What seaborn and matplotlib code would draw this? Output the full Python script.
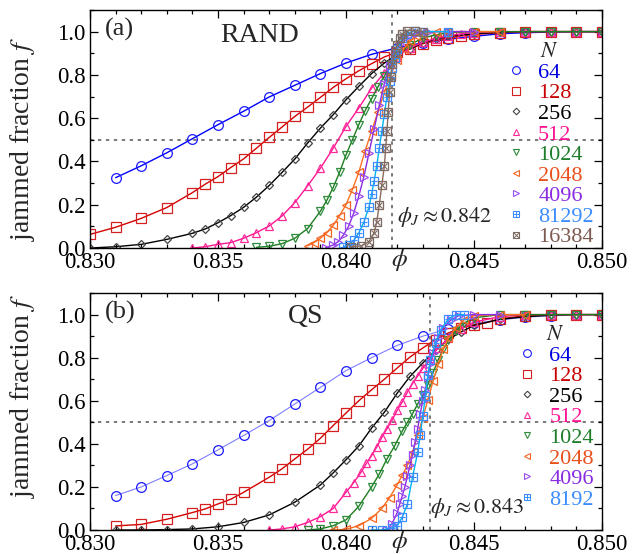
import matplotlib
matplotlib.use('Agg')
import matplotlib.pyplot as plt
import matplotlib.transforms as mtransforms
from matplotlib.lines import Line2D
from matplotlib.ticker import MultipleLocator, FormatStrFormatter
import seaborn as sns

# ---- panel (a) RAND ----
phi_a_64 = [0.831, 0.832, 0.833, 0.834, 0.835, 0.836, 0.837, 0.838, 0.839, 0.840,
            0.841, 0.842, 0.843, 0.844, 0.845, 0.846, 0.847, 0.848, 0.849, 0.850]
f_a_64 = [0.325, 0.380, 0.440, 0.505, 0.570, 0.632, 0.698, 0.752, 0.806, 0.855,
          0.895, 0.925, 0.948, 0.965, 0.978, 0.990, 0.995, 0.998, 1.000, 1.000]

phi_a_128 = [0.830, 0.831, 0.832, 0.833, 0.834, 0.8345, 0.835, 0.8355, 0.836, 0.8365,
             0.837, 0.8375, 0.838, 0.8385, 0.839, 0.8395, 0.840, 0.8405, 0.841, 0.8415,
             0.842, 0.8425, 0.843, 0.8435, 0.844, 0.8445, 0.845, 0.846, 0.847, 0.848,
             0.849, 0.850]
f_a_128 = [0.063, 0.096, 0.137, 0.187, 0.256, 0.295, 0.330, 0.372, 0.412, 0.461,
           0.511, 0.559, 0.608, 0.651, 0.696, 0.742, 0.782, 0.819, 0.852, 0.883,
           0.905, 0.921, 0.944, 0.960, 0.970, 0.980, 0.987, 0.995, 1.000, 1.000,
           1.000, 1.000]

phi_a_256 = [0.830, 0.831, 0.832, 0.833, 0.834, 0.8345, 0.835, 0.8355, 0.836, 0.8365,
             0.837, 0.8375, 0.838, 0.8385, 0.839, 0.8395, 0.840, 0.8405, 0.841, 0.8415,
             0.842, 0.8425, 0.843, 0.8435, 0.844, 0.845, 0.846, 0.847, 0.848, 0.849, 0.850]
f_a_256 = [0.000, 0.006, 0.017, 0.040, 0.068, 0.088, 0.117, 0.150, 0.188, 0.235,
           0.289, 0.349, 0.411, 0.485, 0.554, 0.616, 0.685, 0.747, 0.806, 0.855,
           0.894, 0.920, 0.948, 0.965, 0.978, 0.990, 0.997, 1.000, 1.000, 1.000, 1.000]

phi_a_512 = [0.834, 0.8345, 0.835, 0.8355, 0.836, 0.8365, 0.837, 0.8375, 0.838, 0.8385,
             0.839, 0.8395, 0.840, 0.8405, 0.841, 0.8415, 0.842, 0.8425, 0.843, 0.8435,
             0.844, 0.8445, 0.845, 0.846, 0.847, 0.848, 0.849, 0.850]
f_a_512 = [0.000, 0.006, 0.017, 0.025, 0.045, 0.071, 0.102, 0.148, 0.210, 0.287,
           0.369, 0.461, 0.562, 0.647, 0.739, 0.810, 0.885, 0.925, 0.950, 0.968,
           0.980, 0.990, 0.995, 1.000, 1.000, 1.000, 1.000, 1.000]

phi_a_1024 = [0.8365, 0.837, 0.8375, 0.838, 0.8385, 0.839, 0.83925, 0.8395, 0.83975, 0.840,
              0.84025, 0.8405, 0.84075, 0.841, 0.84125, 0.8415, 0.84175, 0.842, 0.8425, 0.843,
              0.8435, 0.844, 0.845, 0.846, 0.847, 0.848, 0.849, 0.850]
f_a_1024 = [0.003, 0.008, 0.020, 0.045, 0.090, 0.170, 0.220, 0.280, 0.350, 0.430,
            0.500, 0.570, 0.635, 0.690, 0.745, 0.795, 0.845, 0.890, 0.940, 0.970,
            0.985, 0.995, 1.000, 1.000, 1.000, 1.000, 1.000, 1.000]

phi_a_2048 = [0.8385, 0.83875, 0.839, 0.83925, 0.8395, 0.83975, 0.840, 0.84025, 0.8405, 0.84075,
              0.841, 0.84125, 0.8415, 0.84175, 0.842, 0.84225, 0.8425, 0.84275, 0.843, 0.8435,
              0.844, 0.845, 0.846]
f_a_2048 = [0.010, 0.025, 0.045, 0.070, 0.105, 0.150, 0.200, 0.270, 0.350, 0.450,
            0.540, 0.630, 0.720, 0.800, 0.870, 0.920, 0.955, 0.978, 0.990, 1.000,
            1.000, 1.000, 1.000]

phi_a_4096 = [0.8392, 0.8395, 0.8397, 0.8399, 0.8401, 0.8403, 0.8405, 0.8407, 0.8409, 0.8411,
              0.8413, 0.8415, 0.8417, 0.8419, 0.8421, 0.8423, 0.8425, 0.8428, 0.8432, 0.844, 0.845]
f_a_4096 = [0.000, 0.014, 0.030, 0.060, 0.100, 0.160, 0.240, 0.330, 0.440, 0.550,
            0.660, 0.760, 0.840, 0.900, 0.945, 0.970, 0.985, 0.995, 1.000, 1.000, 1.000]

phi_a_8192 = [0.8399, 0.8401, 0.8403, 0.8405, 0.8407, 0.8409, 0.8410, 0.8411, 0.8412, 0.8413,
              0.8414, 0.8415, 0.8416, 0.8417, 0.8418, 0.8419, 0.8420, 0.8422, 0.8424, 0.8427,
              0.8430, 0.844]
f_a_8192 = [0.005, 0.015, 0.035, 0.070, 0.120, 0.190, 0.250, 0.310, 0.380, 0.460,
            0.540, 0.620, 0.700, 0.770, 0.830, 0.880, 0.920, 0.970, 0.990, 1.005,
            1.000, 1.000]

phi_a_16384 = [0.8402, 0.8406, 0.8409, 0.8411, 0.8412, 0.8413, 0.8414, 0.8415, 0.84155, 0.8416,
               0.84165, 0.8417, 0.84175, 0.8418, 0.8419, 0.8420, 0.8421, 0.8422, 0.8424, 0.8427,
               0.8430]
f_a_16384 = [0.005, 0.010, 0.030, 0.070, 0.120, 0.200, 0.290, 0.380, 0.460, 0.540,
             0.630, 0.720, 0.790, 0.850, 0.900, 0.940, 0.970, 0.990, 1.005, 1.005,
             1.000]

# ---- panel (b) QS ----
phi_b_64 = [0.831, 0.832, 0.833, 0.834, 0.835, 0.836, 0.837, 0.838, 0.839, 0.840,
            0.841, 0.842, 0.843, 0.844, 0.845, 0.846, 0.847, 0.848, 0.849, 0.850]
f_b_64 = [0.160, 0.200, 0.253, 0.307, 0.372, 0.439, 0.508, 0.585, 0.662, 0.740,
          0.800, 0.857, 0.900, 0.935, 0.960, 0.975, 0.988, 0.995, 1.000, 1.000]

phi_b_128 = [0.831, 0.832, 0.833, 0.834, 0.8345, 0.835, 0.8355, 0.836, 0.837, 0.8375,
             0.838, 0.8385, 0.839, 0.8395, 0.840, 0.8405, 0.841, 0.8415, 0.842, 0.8425,
             0.843, 0.8435, 0.844, 0.8445, 0.845, 0.8455, 0.846, 0.847, 0.848, 0.849, 0.850]
f_b_128 = [0.019, 0.026, 0.050, 0.081, 0.098, 0.121, 0.143, 0.175, 0.245, 0.284,
           0.330, 0.375, 0.426, 0.485, 0.543, 0.600, 0.651, 0.700, 0.752, 0.803,
           0.845, 0.884, 0.915, 0.938, 0.953, 0.963, 0.980, 0.995, 1.000, 1.000, 1.000]

phi_b_256 = [0.831, 0.832, 0.833, 0.834, 0.835, 0.836, 0.837, 0.838, 0.839, 0.8395,
             0.840, 0.8405, 0.841, 0.8415, 0.842, 0.8425, 0.843, 0.8435, 0.844, 0.8445,
             0.845, 0.846, 0.847, 0.848, 0.849, 0.850]
f_b_256 = [0.000, 0.000, 0.002, 0.005, 0.015, 0.035, 0.070, 0.129, 0.209, 0.265,
           0.326, 0.390, 0.473, 0.547, 0.635, 0.713, 0.775, 0.835, 0.885, 0.920,
           0.950, 0.978, 0.990, 0.997, 1.000, 1.000]

phi_b_512 = [0.837, 0.8375, 0.838, 0.8385, 0.839, 0.8395, 0.840, 0.8403, 0.8406, 0.8408,
             0.841, 0.8412, 0.8414, 0.8416, 0.8418, 0.842, 0.8422, 0.8424, 0.8426, 0.8428,
             0.843, 0.8433, 0.8436, 0.844, 0.8445, 0.845, 0.846, 0.847, 0.848, 0.849, 0.850]
f_b_512 = [0.000, 0.005, 0.015, 0.035, 0.062, 0.100, 0.175, 0.220, 0.270, 0.310,
           0.345, 0.385, 0.430, 0.470, 0.510, 0.555, 0.595, 0.640, 0.680, 0.715,
           0.750, 0.800, 0.845, 0.890, 0.935, 0.965, 0.990, 1.000, 1.000, 1.000, 1.000]

phi_b_1024 = [0.8385, 0.839, 0.8395, 0.840, 0.8405, 0.841, 0.8413, 0.8416, 0.8419, 0.8422,
              0.8424, 0.8426, 0.8428, 0.843, 0.8432, 0.8434, 0.8436, 0.8438, 0.844, 0.8443,
              0.8446, 0.845, 0.846, 0.847, 0.848, 0.849, 0.850]
f_b_1024 = [0.000, 0.005, 0.020, 0.047, 0.110, 0.200, 0.260, 0.330, 0.390, 0.460,
            0.500, 0.540, 0.585, 0.625, 0.675, 0.730, 0.790, 0.840, 0.880, 0.925,
            0.960, 0.985, 1.000, 1.000, 1.000, 1.000, 1.000]

phi_b_2048 = [0.8395, 0.840, 0.8405, 0.841, 0.8414, 0.8417, 0.842, 0.8422, 0.8424, 0.8426,
              0.8428, 0.8430, 0.8432, 0.8434, 0.8436, 0.8438, 0.844, 0.8443, 0.8446, 0.845,
              0.846, 0.847]
f_b_2048 = [0.000, 0.003, 0.020, 0.054, 0.100, 0.150, 0.210, 0.255, 0.300, 0.360,
            0.440, 0.520, 0.605, 0.690, 0.770, 0.840, 0.890, 0.940, 0.975, 0.995,
            1.000, 1.000]

phi_b_4096 = [0.8416, 0.8418, 0.842, 0.8421, 0.8422, 0.8423, 0.8424, 0.8425, 0.8426, 0.8427,
              0.8428, 0.8429, 0.843, 0.8431, 0.8432, 0.8433, 0.8434, 0.8436, 0.8438, 0.8441,
              0.8444, 0.845, 0.846]
f_b_4096 = [0.000, 0.030, 0.080, 0.120, 0.160, 0.200, 0.250, 0.300, 0.350, 0.410,
            0.470, 0.540, 0.600, 0.650, 0.710, 0.770, 0.820, 0.890, 0.940, 0.975,
            0.995, 1.000, 1.000]

phi_b_8192 = [0.8410, 0.8414, 0.8418, 0.8420, 0.8422, 0.8424, 0.8426, 0.8428, 0.8429, 0.8430,
              0.8431, 0.8432, 0.8433, 0.8435, 0.8437, 0.8440, 0.8443, 0.8446]
f_b_8192 = [0.000, 0.000, 0.010, 0.019, 0.060, 0.121, 0.245, 0.360, 0.440, 0.530,
            0.620, 0.720, 0.790, 0.870, 0.930, 0.980, 1.000, 1.000]

labels_a = ['64', '128', '256', '512', '1024', '2048', '4096', '81292', '16384']
labels_b = ['64', '128', '256', '512', '1024', '2048', '4096', '8192']
phi_J_a = 0.8418
phi_J_b = 0.8433

series_a = [(phi_a_64, f_a_64), (phi_a_128, f_a_128), (phi_a_256, f_a_256),
            (phi_a_512, f_a_512), (phi_a_1024, f_a_1024), (phi_a_2048, f_a_2048),
            (phi_a_4096, f_a_4096), (phi_a_8192, f_a_8192), (phi_a_16384, f_a_16384)]
series_b = [(phi_b_64, f_b_64), (phi_b_128, f_b_128), (phi_b_256, f_b_256),
            (phi_b_512, f_b_512), (phi_b_1024, f_b_1024), (phi_b_2048, f_b_2048),
            (phi_b_4096, f_b_4096), (phi_b_8192, f_b_8192)]

# marker / colour styles, same order as the labels
styles = [
    dict(marker='o', ms=7.0, line='#0000ff', edge='#1a1aff', text='#0000e0'),
    dict(marker='s', ms=6.5, line='#d40000', edge='#d42020', text='#c80000'),
    dict(marker='D', ms=4.2, line='#000000', edge='#444444', text='#000000'),
    dict(marker='^', ms=5.5, line='#ff1493', edge='#ff2a9a', text='#ff1493'),
    dict(marker='v', ms=5.5, line='#1e7d1e', edge='#2e8b3e', text='#1e7d2a'),
    dict(marker='<', ms=5.5, line='#ff7020', edge='#f26522', text='#e8501c'),
    dict(marker='>', ms=5.5, line='#8a2be2', edge='#9a4cf0', text='#8a2be2'),
    dict(marker='s', ms=6.0, line='#00b4f0', edge='#3a8cff', text='#3a8cff', inner='+'),
    dict(marker='s', ms=6.0, line='#8c6a5c', edge='#7d6a62', text='#7d5a50', inner='x'),
]

sns.set_theme(style='ticks')
plt.rcParams['font.family'] = ['Liberation Serif', 'DejaVu Serif']
plt.rcParams['mathtext.fontset'] = 'stix'
plt.rcParams['axes.edgecolor'] = 'black'
plt.rcParams['xtick.color'] = 'black'
plt.rcParams['ytick.color'] = 'black'

fig = plt.figure(figsize=(6.37, 5.54), dpi=100)
ax_a = fig.add_axes([0.1413, 0.5523, 0.8037, 0.4297])
ax_b = fig.add_axes([0.1413, 0.0433, 0.8037, 0.4277])


def draw_series(ax, phi, f, st, line_color=None, lw=1.0):
    sns.lineplot(x=phi, y=f, ax=ax, color=line_color or st['line'], linewidth=lw,
                 estimator=None, sort=False, legend=False,
                 marker=st['marker'], markersize=st['ms'], markerfacecolor='none',
                 markeredgecolor=st['edge'], markeredgewidth=0.9)
    if 'inner' in st:
        sns.lineplot(x=phi, y=f, ax=ax, color=st['edge'], linestyle='', estimator=None,
                     sort=False, legend=False, marker=st['inner'],
                     markersize=st['ms'] * 0.75, markeredgewidth=0.8,
                     markeredgecolor=st['edge'])


def legend_handles(n):
    hs = []
    for st in styles[:n]:
        ms = st['ms'] * 0.8
        h = Line2D([], [], linestyle='None', marker=st['marker'], ms=ms,
                   markerfacecolor='none', markeredgecolor=st['edge'], markeredgewidth=0.8)
        if 'inner' in st:
            h2 = Line2D([], [], linestyle='None', marker=st['inner'], ms=ms * 0.75,
                        markeredgecolor=st['edge'], markeredgewidth=0.7)
            h = (h, h2)
        hs.append(h)
    return hs


def add_legend(ax, n, labels, top):
    leg = ax.legend(legend_handles(n), labels, title='$N$', loc='upper right',
                    bbox_to_anchor=(0.984, top), frameon=False, fontsize=16,
                    title_fontsize=16, handlelength=1.0, handletextpad=0.5,
                    labelspacing=0.0, borderaxespad=0, borderpad=0)
    for t, st in zip(leg.get_texts(), styles):
        t.set_color(st['text'])
    return leg


def style_axes(ax, phi_J, ylab_y):
    ax.set_xlim(0.830, 0.850)
    ax.set_ylim(0.0, 1.1)
    ax.xaxis.set_major_locator(MultipleLocator(0.005))
    ax.xaxis.set_minor_locator(MultipleLocator(0.001))
    ax.yaxis.set_major_locator(MultipleLocator(0.2))
    ax.yaxis.set_minor_locator(MultipleLocator(0.1))
    ax.xaxis.set_major_formatter(FormatStrFormatter('%.3f'))
    ax.yaxis.set_major_formatter(FormatStrFormatter('%.1f'))
    ax.tick_params(which='both', direction='in', top=True, right=True, labelsize=16.5, width=0.9)
    ax.tick_params(which='major', length=6, pad=3)
    ax.tick_params(which='minor', length=3)
    for s in ax.spines.values():
        s.set_linewidth(1.0)
        s.set_color('black')
    ax.axhline(0.5, color='#555555', lw=1.1, ls=(0, (2.2, 3)), zorder=0)
    ax.axvline(phi_J, color='#555555', lw=1.1, ls=(0, (2.2, 3)), zorder=0)
    ax.set_xlabel('')
    ax.set_ylabel('jammed fraction $f$', fontsize=20)
    ax.yaxis.set_label_coords(-0.103, ylab_y)
    trans = mtransforms.blended_transform_factory(ax.transData, ax.transAxes)
    ax.text(0.8421, -0.05, r'$\phi$', transform=trans, fontsize=18,
            ha='center', va='center')


# panel (a)
for (phi, f), st in zip(series_a, styles):
    draw_series(ax_a, phi, f, st)
style_axes(ax_a, phi_J_a, 0.46)
ax_a.text(0.03, 0.965, '(a)', transform=ax_a.transAxes, fontsize=19, va='top')
ax_a.text(0.254, 0.945, 'RAND', transform=ax_a.transAxes, fontsize=20, va='top')
ax_a.text(0.60, 0.13, r'$\phi_J \approx 0.842$', transform=ax_a.transAxes,
          fontsize=16, va='center')
add_legend(ax_a, 9, labels_a, 0.86)

# panel (b)
for i, ((phi, f), st) in enumerate(zip(series_b, styles)):
    if i == 0:
        draw_series(ax_b, phi, f, st, line_color='#7f7fff', lw=0.8)
    else:
        draw_series(ax_b, phi, f, st)
style_axes(ax_b, phi_J_b, 0.565)
ax_b.text(0.03, 0.965, '(b)', transform=ax_b.transAxes, fontsize=19, va='top')
ax_b.text(0.387, 0.955, 'QS', transform=ax_b.transAxes, fontsize=20, va='top')
ax_b.text(0.665, 0.093, r'$\phi_J \approx 0.843$', transform=ax_b.transAxes,
          fontsize=16, va='center')
add_legend(ax_b, 8, labels_b, 0.86)

fig.savefig('out.png', dpi=100)
